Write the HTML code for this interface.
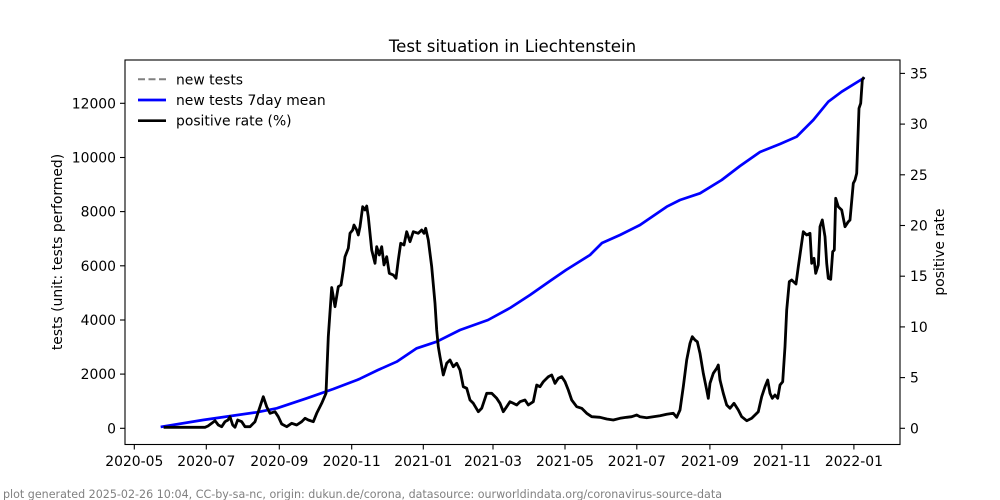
<!DOCTYPE html>
<html><head><meta charset="utf-8"><style>
html,body{margin:0;padding:0;background:#fff;}
svg{display:block;}
text{font-family:"DejaVu Sans","Liberation Sans",sans-serif;}
</style></head><body>
<svg width="1000" height="500" viewBox="0 0 1000 500" xmlns="http://www.w3.org/2000/svg">
<rect width="1000" height="500" fill="#fff"/>
<text x="512.5" y="52" font-size="16.6" text-anchor="middle" fill="#000">Test situation in Liechtenstein</text>

<!-- blue 7day mean -->
<polyline fill="none" stroke="#0000ff" stroke-width="2.7" stroke-linejoin="round" stroke-linecap="square" points="162,426.7 203,420 256.7,412.3 276.7,408.3 306.7,398.3 333.3,389 357,380 360,378.7 378,370 396.7,361.7 416.7,348.3 436.7,341.7 460,330 488,320 510,308 530,295 550,281 566,270 590,255 602,243 620,235 640,225 666.7,206.7 680,200 700,193.3 721.7,180 740,166 760,152 780,144 796.7,136.7 803.3,130 813.3,120 828.3,101.7 841.7,91.7 863.3,78.3"/>

<!-- black positive rate -->
<polyline fill="none" stroke="#000" stroke-width="2.8" stroke-linejoin="round" stroke-linecap="square" points="165,427.3 205,427.3 208,426 211.7,423.3 215,420.7 218.3,425 221.7,426.7 225,421.7 228,420 230,416.7 232.7,425 235,427.3 237.7,420 241.7,421.7 245,426.7 250,426.7 255,421.7 260,406.7 263.3,396.7 266.7,406.7 270,413.3 275,411.7 278.3,416.7 281.7,424 286.7,426.7 291.7,423.3 296.7,425 301.7,421.7 305,418.3 308.3,420 313.3,421.7 316.7,413.3 321.7,403.3 326,393.3 328.3,336.7 331.7,287.5 335,306.7 338.3,286.7 341,285 343.3,270 345,256.7 348.3,248.3 350,233.3 352.7,230 354,225 356.7,230 358.3,235 360,226.7 362.7,206.7 365,210 366.7,206 368.3,216.7 371.7,250 375,263.3 376.7,246.7 379.3,255 381.7,246.7 384,265 386.7,256.7 389.3,273.3 393.3,275 396,278.3 398.3,260 400.7,243.3 404,245 406.7,231.7 410,241.7 413.3,231.7 418.3,233.3 421.7,230 424,233.3 425.7,228.3 428.3,240 431.7,266.7 435,303.3 436.7,330 438.3,346.7 440,356.7 443.3,375 446.7,363.3 450,360 453.3,366.7 456.7,363.3 460,370 463.3,386.7 466.7,388.3 470,400 473.3,403.3 478.3,411.7 481.7,408.3 486.7,393.3 491.7,393.3 496.7,398.3 500,403.3 503.3,411.7 506.7,406.7 510,401.7 513.3,403.3 516.7,405 520,401.7 525,400 528.3,405 533.3,401.7 536.7,385 540,386.7 543.3,381.7 548.3,376.7 551.7,375 555,383.3 558.3,378.3 561.7,376.7 565,381.7 568.3,390 571.7,400 576.7,406.7 581.7,408.3 586.7,413.3 591.7,416.7 600,417.3 606.7,419 613.3,420 620,418.3 626.7,417.3 631.7,416.7 636.7,415 640,416.7 646.7,417.7 653.3,416.7 660,415.7 666.7,414.3 673.3,413.3 676.7,417.3 680,410 683.3,386.7 686.7,360 690,343.3 692.3,336.7 695,340 697.3,341.7 700,353.3 703.3,373.3 706.7,390 708.3,398.3 710,383.3 713.3,373.3 716.7,368.3 718.3,365 720,380 723.3,393.3 726.7,405 730,408.3 734,403.3 738.3,410 741.7,416.7 746.7,420.7 751.7,418.3 758.3,411.7 761.7,396.7 765,386.7 767.7,380 770,393.3 772.3,398.3 775,395 777.7,398.3 780,385 782.7,381.7 785,346.7 786.7,310 789.3,281.7 791.7,280 796,284 798.3,266.7 803.3,231.7 806.7,235 810,233.3 811.7,263.3 814,258.3 815.7,273.3 818.3,265 820,226.7 822.3,220 825,236.7 826.7,263.3 828.3,278.3 830.7,279.3 832.7,251.7 834.3,250 835.7,198.3 838.3,206.7 841.7,210 845,226.7 848.3,221.7 850,220 853.3,183.3 855,180 856.7,173.3 859,108.3 860.7,103.3 862.3,80 863.3,78.3"/>

<!-- axes frame -->
<rect x="125" y="60" width="775" height="384.5" fill="none" stroke="#000" stroke-width="1.1"/>

<!-- left ticks -->
<g stroke="#000" stroke-width="1.1">
<line x1="120" y1="428.3" x2="125" y2="428.3"/>
<line x1="120" y1="374.1" x2="125" y2="374.1"/>
<line x1="120" y1="320" x2="125" y2="320"/>
<line x1="120" y1="265.8" x2="125" y2="265.8"/>
<line x1="120" y1="211.6" x2="125" y2="211.6"/>
<line x1="120" y1="157.5" x2="125" y2="157.5"/>
<line x1="120" y1="103.3" x2="125" y2="103.3"/>
</g>
<g font-size="13.9" text-anchor="end" fill="#000">
<text x="116" y="433.3">0</text>
<text x="116" y="379.1">2000</text>
<text x="116" y="325">4000</text>
<text x="116" y="270.8">6000</text>
<text x="116" y="216.6">8000</text>
<text x="116" y="162.5">10000</text>
<text x="116" y="108.3">12000</text>
</g>

<!-- right ticks -->
<g stroke="#000" stroke-width="1.1">
<line x1="900" y1="428.3" x2="905" y2="428.3"/>
<line x1="900" y1="377.6" x2="905" y2="377.6"/>
<line x1="900" y1="326.9" x2="905" y2="326.9"/>
<line x1="900" y1="276.2" x2="905" y2="276.2"/>
<line x1="900" y1="225.5" x2="905" y2="225.5"/>
<line x1="900" y1="174.8" x2="905" y2="174.8"/>
<line x1="900" y1="124.1" x2="905" y2="124.1"/>
<line x1="900" y1="73.4" x2="905" y2="73.4"/>
</g>
<g font-size="13.9" text-anchor="start" fill="#000">
<text x="910" y="433.3">0</text>
<text x="910" y="382.6">5</text>
<text x="910" y="331.9">10</text>
<text x="910" y="281.2">15</text>
<text x="910" y="230.5">20</text>
<text x="910" y="179.8">25</text>
<text x="910" y="129.1">30</text>
<text x="910" y="78.4">35</text>
</g>

<!-- x ticks -->
<g stroke="#000" stroke-width="1.1">
<line x1="134.3" y1="444.5" x2="134.3" y2="449.5"/>
<line x1="206.3" y1="444.5" x2="206.3" y2="449.5"/>
<line x1="279.3" y1="444.5" x2="279.3" y2="449.5"/>
<line x1="351.7" y1="444.5" x2="351.7" y2="449.5"/>
<line x1="423.3" y1="444.5" x2="423.3" y2="449.5"/>
<line x1="493" y1="444.5" x2="493" y2="449.5"/>
<line x1="565" y1="444.5" x2="565" y2="449.5"/>
<line x1="636.8" y1="444.5" x2="636.8" y2="449.5"/>
<line x1="709.9" y1="444.5" x2="709.9" y2="449.5"/>
<line x1="781.9" y1="444.5" x2="781.9" y2="449.5"/>
<line x1="853.9" y1="444.5" x2="853.9" y2="449.5"/>
</g>
<g font-size="13.9" text-anchor="middle" fill="#000">
<text x="134.3" y="466">2020-05</text>
<text x="206.3" y="466">2020-07</text>
<text x="279.3" y="466">2020-09</text>
<text x="351.7" y="466">2020-11</text>
<text x="423.3" y="466">2021-01</text>
<text x="493" y="466">2021-03</text>
<text x="565" y="466">2021-05</text>
<text x="636.8" y="466">2021-07</text>
<text x="709.9" y="466">2021-09</text>
<text x="781.9" y="466">2021-11</text>
<text x="853.9" y="466">2022-01</text>
</g>

<!-- axis labels -->
<text transform="translate(62,252) rotate(-90)" font-size="13.9" text-anchor="middle" fill="#000">tests (unit: tests performed)</text>
<text transform="translate(944,252) rotate(-90)" font-size="13.9" text-anchor="middle" fill="#000">positive rate</text>

<!-- legend -->
<line x1="138" y1="79.3" x2="166" y2="79.3" stroke="#808080" stroke-width="2" stroke-dasharray="7,3.5"/>
<line x1="138" y1="100" x2="166" y2="100" stroke="#0000ff" stroke-width="2.7"/>
<line x1="138" y1="120.7" x2="166" y2="120.7" stroke="#000" stroke-width="2.7"/>
<g font-size="13.9" fill="#000">
<text x="176" y="84.3">new tests</text>
<text x="176" y="105">new tests 7day mean</text>
<text x="176" y="125.7">positive rate (%)</text>
</g>

<!-- footer -->
<text x="3" y="498" font-size="11.1" fill="#808080" textLength="719" lengthAdjust="spacingAndGlyphs">plot generated 2025-02-26 10:04, CC-by-sa-nc, origin: dukun.de/corona, datasource: ourworldindata.org/coronavirus-source-data</text>
</svg>
</body></html>
